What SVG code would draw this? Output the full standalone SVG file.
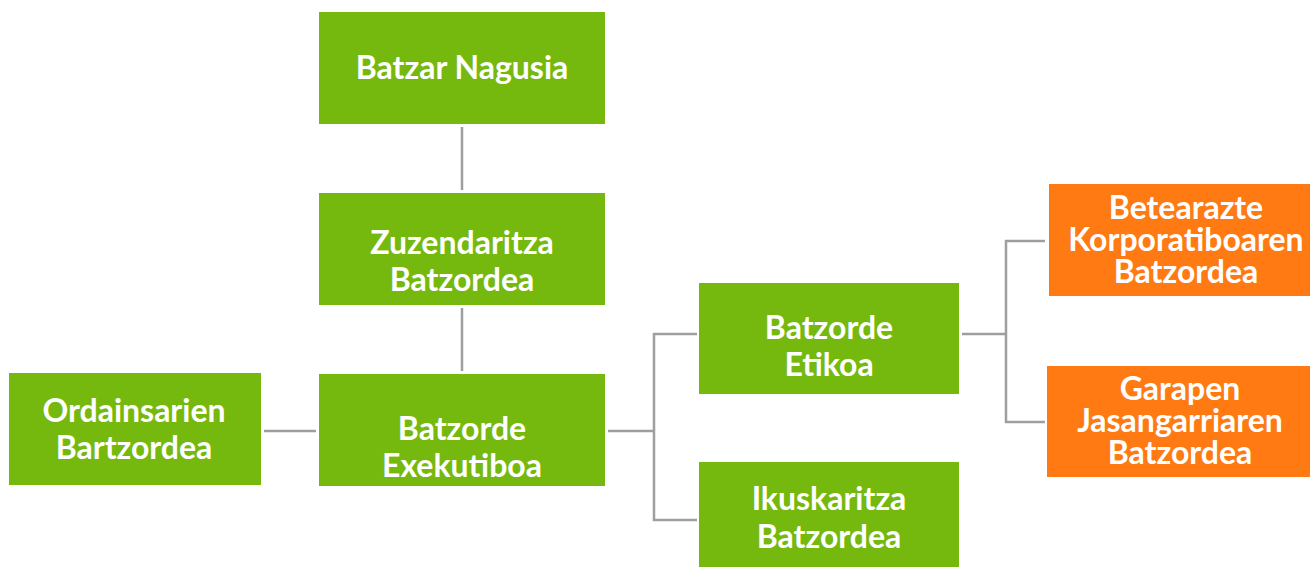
<svg xmlns="http://www.w3.org/2000/svg" width="1314" height="567" viewBox="0 0 1314 567">
<style>
.g{fill:#76B90E}
.o{fill:#FF7A12}
text{font-family:Lato,"Open Sans","Liberation Sans",sans-serif;font-weight:bold;font-size:32px;fill:#fff;text-anchor:middle}
.c{fill:none;stroke:#9E9E9E;stroke-width:2.5}
</style>
<rect width="1314" height="567" fill="#fff"/>
<g id="connectors">
<path class="c" d="M462 127V190"/>
<path class="c" d="M462 308V371"/>
<path class="c" d="M264 431H316"/>
<path class="c" d="M608 431H654M697 334H654V520H697"/>
<path class="c" d="M962 334H1006M1045 241H1006V422H1045"/>
</g>
<g id="batzar-nagusia"><rect class="g" x="319" y="12" width="286" height="112"/><text x="462" y="79">Batzar Nagusia</text></g>
<g id="zuzendaritza"><rect class="g" x="319" y="193" width="286" height="112"/><text x="462" y="254">Zuzendaritza</text><text x="462" y="291">Batzordea</text></g>
<g id="ordainsarien"><rect class="g" x="9" y="373" width="252" height="112"/><text x="134" y="422">Ordainsarien</text><text x="134" y="459">Bartzordea</text></g>
<g id="exekutiboa"><rect class="g" x="319" y="374" width="286" height="112"/><text x="462" y="440">Batzorde</text><text x="462" y="477">Exekutiboa</text></g>
<g id="etikoa"><rect class="g" x="699" y="283" width="260" height="111"/><text x="829" y="339">Batzorde</text><text x="829" y="376">Etikoa</text></g>
<g id="ikuskaritza"><rect class="g" x="699" y="462" width="260" height="110"/><text x="829" y="510">Ikuskaritza</text><text x="829" y="548">Batzordea</text></g>
<g id="betearazte"><rect class="o" x="1049" y="184" width="261" height="112"/><text x="1186" y="219">Betearazte</text><text x="1186" y="251">Korporatiboaren</text><text x="1186" y="283">Batzordea</text></g>
<g id="garapen"><rect class="o" x="1047" y="366" width="263" height="111"/><text x="1180" y="400">Garapen</text><text x="1180" y="432">Jasangarriaren</text><text x="1180" y="464">Batzordea</text></g>
</svg>
